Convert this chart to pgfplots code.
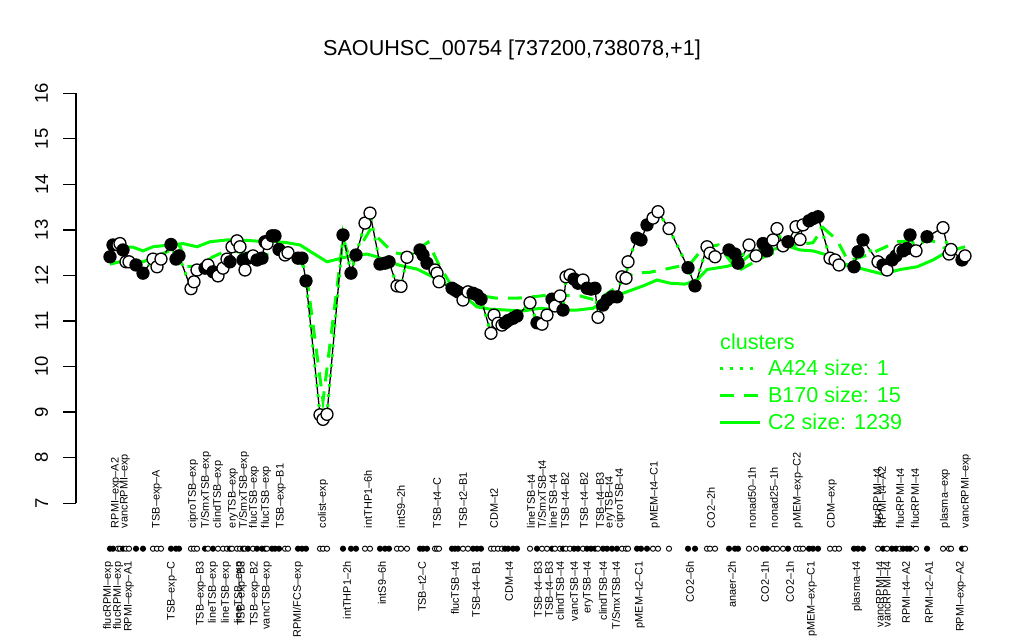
\documentclass[border=0pt]{standalone}
\usepackage{pgfplots}
\pgfplotsset{compat=1.18}
\usepackage{pgfplotstable}
\usepackage{fontspec}
\setmainfont{Liberation Sans}
\definecolor{Rgreen}{RGB}{0,255,0}

% gene profile: position, log expression, condition marker (f = filled, o = open)
\pgfplotstableread{
x y f
110 12.41 f
113 12.67 f
118 12.67 o
120 12.70 o
123 12.56 f
126 12.30 o
129 12.30 o
136 12.23 f
143 12.05 f
153 12.36 o
157 12.19 o
161 12.36 o
171 12.68 f
176 12.36 f
179 12.43 f
191 11.71 o
194 11.86 o
197 12.12 o
205 12.16 f
208 12.23 o
213 12.08 f
218 11.99 o
223 12.16 o
227 12.36 o
230 12.30 f
232 12.63 o
237 12.76 o
240 12.63 o
243 12.34 f
245 12.12 o
248 12.38 f
253 12.43 o
257 12.34 f
262 12.38 f
265 12.74 f
267 12.70 o
272 12.87 f
275 12.87 f
279 12.57 f
285 12.45 o
288 12.50 o
298 12.38 f
302 12.38 f
306 11.88 f
320 8.94 o
323 8.84 o
327 8.95 o
343 12.89 f
351 12.05 f
356 12.45 f
365 13.15 o
370 13.37 o
380 12.25 f
385 12.27 f
389 12.30 f
397 11.77 o
401 11.76 o
407 12.40 o
420 12.56 f
423 12.45 f
427 12.27 f
435 12.12 o
437 12.05 o
439 11.86 o
452 11.72 f
455 11.68 f
458 11.64 f
463 11.46 o
468 11.64 o
473 11.61 f
477 11.57 f
481 11.48 f
491 10.73 o
494 11.13 o
498 10.95 o
502 10.91 o
505 10.96 f
508 11.01 f
513 11.06 f
517 11.11 f
530 11.40 o
537 10.96 f
542 10.93 o
547 11.13 o
552 11.48 f
555 11.33 o
560 11.55 o
563 11.24 f
566 11.97 o
570 12.01 o
574 11.92 f
578 11.83 f
583 11.90 o
587 11.72 f
591 11.70 f
595 11.72 f
598 11.08 o
603 11.35 f
607 11.46 f
612 11.53 f
617 11.53 f
622 11.97 o
626 11.94 o
628 12.30 o
637 12.82 f
641 12.78 f
647 13.11 f
653 13.26 o
658 13.40 o
669 13.03 o
688 12.17 f
695 11.77 f
707 12.63 o
710 12.49 o
715 12.41 o
729 12.56 f
735 12.47 f
738 12.27 f
749 12.67 o
756 12.43 o
763 12.70 f
767 12.54 f
773 12.78 o
777 13.03 o
783 12.65 o
788 12.74 f
796 13.07 o
800 12.79 o
803 13.11 o
809 13.20 f
813 13.25 f
818 13.29 f
830 12.38 o
835 12.34 o
839 12.23 o
854 12.19 f
858 12.52 f
863 12.78 f
878 12.30 o
883 12.23 f
887 12.12 o
892 12.34 f
896 12.43 f
900 12.56 o
903 12.54 f
907 12.59 f
910 12.89 f
916 12.54 o
927 12.85 f
943 13.05 o
949 12.47 o
951 12.57 o
962 12.34 f
965 12.43 o
}\genedata

% cluster C2 mean profile
\pgfplotstableread{
x y
110 12.62
133 12.62
143 12.54
153 12.63
170 12.67
183 12.70
197 12.63
210 12.74
227 12.78
240 12.78
260 12.75
273 12.75
287 12.72
300 12.67
313 12.49
327 12.30
347 12.41
367 12.47
377 12.41
390 12.30
400 12.22
417 12.14
430 12.00
447 11.80
463 11.57
477 11.31
490 11.26
507 11.24
523 11.22
540 11.28
557 11.24
577 11.24
593 11.28
607 11.46
623 11.61
643 11.77
657 11.90
670 11.83
685 11.81
697 11.90
707 12.13
727 12.20
740 12.28
750 12.45
767 12.56
790 12.63
800 12.56
813 12.54
827 12.45
837 12.30
853 12.20
870 12.10
883 12.03
900 12.13
917 12.19
933 12.34
947 12.52
965 12.63
}\clusterC

% cluster B170 mean profile
\pgfplotstableread{
x y
110 12.25
130 12.35
143 12.30
160 12.45
180 12.65
187 12.20
200 12.20
212 12.40
227 12.55
245 12.50
270 12.45
293 12.60
306 12.10
323 9.25
343 12.80
351 12.30
370 13.00
393 12.50
410 12.45
428 12.73
440 12.19
450 11.83
467 11.60
497 11.50
517 11.50
550 11.57
580 11.55
597 11.45
617 11.75
633 12.05
650 12.07
670 12.16
690 12.25
703 12.60
718 12.67
738 12.10
763 12.40
790 12.65
813 12.72
823 13.05
837 12.78
848 12.32
868 12.45
897 12.74
923 12.78
937 12.74
950 12.50
965 12.30
}\clusterB

\newcommand{\labfont}{\fontsize{10.9}{12}\selectfont}
\newcommand{\bigfont}{\fontsize{21.6}{24}\selectfont}
\newcommand{\tickfont}{\fontsize{18.5}{20}\selectfont}
\newcommand{\toplab}[2]{\node[rotate=90, anchor=west, inner sep=0pt, font=\labfont] at (axis cs:#1,6.45) {#2};}
\newcommand{\botlab}[2]{\node[rotate=90, anchor=east, inner sep=0pt, font=\labfont] at (axis cs:#1,5.72) {#2};}

\begin{document}
\begin{tikzpicture}
\useasboundingbox (-76pt,0pt) rectangle (948pt,640pt);
\begin{axis}[
    at={(0pt,0pt)}, anchor=south west,
    scale only axis, width=948pt, height=640pt,
    xmin=76, xmax=1024, ymin=3.995, ymax=18.049,
    clip=false,
    axis line style={draw=none},
    xtick=\empty,
    ytick={7,...,16}, ytick pos=left,
    tick align=outside, major tick length=12.7pt,
    tick style={black, line width=1.2pt},
    yticklabel style={rotate=90, anchor=south, inner sep=0pt, yshift=15pt, font=\tickfont},
    /pgf/number format/assume math mode=true,
    legend style={at={(0.677,0.4387)}, anchor=north west, draw=none, fill=none,
        font=\color{Rgreen}\bigfont, row sep=9.5pt, column sep=6pt, inner sep=0pt,
        nodes={inner sep=1pt, text height=15.5pt, text depth=0pt}},
    legend cell align=left,
    legend image code/.code={\draw[#1] (0pt,0pt) -- (40pt,0pt);},
]
\draw[black, line width=1.2pt] (axis cs:76,7) -- (axis cs:76,16);

\addlegendimage{Rgreen, line width=3pt, dash pattern=on 3pt off 7pt}
\addlegendentry{A424 size: 1}
\addlegendimage{Rgreen, line width=3pt, dash pattern=on 14pt off 10pt}
\addlegendentry{B170 size: 15}
\addlegendimage{Rgreen, line width=3pt}
\addlegendentry{C2 size: 1239}

\addplot[forget plot, Rgreen, line width=3pt] table[x=x, y=y] {\clusterC};
\addplot[forget plot, Rgreen, line width=3pt, dash pattern=on 14pt off 10pt] table[x=x, y=y] {\clusterB};
\addplot[forget plot, black, line width=1.3pt] table[x=x, y=y] {\genedata};
\addplot[forget plot, Rgreen, line width=3pt, dash pattern=on 3pt off 7pt] table[x=x, y=y] {\genedata};
\addplot[forget plot, only marks, scatter, scatter src=explicit symbolic,
    scatter/classes={
        o={mark=*, draw=black, fill=white, line width=1.3pt, mark size=6pt},
        f={mark=*, draw=black, fill=black, line width=1.3pt, mark size=6pt}}]
    table[x=x, y=y, meta=f] {\genedata};
\addplot[forget plot, only marks, scatter, scatter src=explicit symbolic,
    scatter/classes={
        o={mark=*, draw=black, fill=white, line width=0.9pt, mark size=2.6pt},
        f={mark=*, draw=black, fill=black, line width=0.9pt, mark size=2.6pt}}]
    table[x=x, y expr=6, meta=f] {\genedata};

\node[anchor=base, font=\bigfont] at (axis cs:512,16.84) {SAOUHSC\_00754 [737200,738078,+1]};
\node[anchor=west, inner sep=0pt, font=\color{Rgreen}\bigfont] at (axis cs:720,10.54) {clusters};

\toplab{116}{RPMI--exp--A2}
\toplab{125}{vancRPMI--exp}
\toplab{157}{TSB--exp--A}
\toplab{193}{ciproTSB--exp}
\toplab{206}{T/SmxTSB--exp}
\toplab{218}{clindTSB--exp}
\toplab{233}{eryTSB--exp}
\toplab{244}{T/SmxTSB--exp}
\toplab{254}{flucTSB--exp}
\toplab{266}{flucTSB--exp}
\toplab{281}{TSB--exp--B1}
\toplab{323}{colist--exp}
\toplab{368}{intTHP1--6h}
\toplab{401}{intS9--2h}
\toplab{437}{TSB--t4--C}
\toplab{463}{TSB--t2--B1}
\toplab{494}{CDM--t2}
\toplab{531}{lineTSB--t4}
\toplab{542}{T/SmxTSB--t4}
\toplab{553}{lineTSB--t4}
\toplab{565}{TSB--t4--B2}
\toplab{584}{TSB--t4--B2}
\toplab{600}{TSB--t4--B3}
\toplab{610}{eryTSB--t4}
\toplab{620}{ciproTSB--t4}
\toplab{655}{pMEM--t4--C1}
\toplab{711}{CO2--2h}
\toplab{752}{nonad50--1h}
\toplab{774}{nonad25--1h}
\toplab{798}{pMEM--exp--C2}
\toplab{832}{CDM--exp}
\toplab{877}{flucRPMI--t4}
\toplab{882}{RPMI--t4--A2}
\toplab{900}{flucRPMI--t4}
\toplab{915}{flucRPMI--t4}
\toplab{945}{plasma--exp}
\toplab{966}{vancRPMI--exp}

\botlab{108}{flucRPMI--exp}
\botlab{118}{flucRPMI--exp}
\botlab{129}{RPMI--exp--A1}
\botlab{172}{TSB--exp--C}
\botlab{201}{TSB--exp--B3}
\botlab{213}{lineTSB--exp}
\botlab{226}{lineTSB--exp}
\botlab{239}{lineTSB--exp}
\botlab{242}{TSB--exp--B3}
\botlab{255}{TSB--exp--B2}
\botlab{267}{vancTSB--exp}
\botlab{298}{RPMI/FCS--exp}
\botlab{347}{intTHP1--2h}
\botlab{382}{intS9--6h}
\botlab{422}{TSB--t2--C}
\botlab{455}{flucTSB--t4}
\botlab{476}{TSB--t4--B1}
\botlab{509}{CDM--t4}
\botlab{538}{TSB--t4--B3}
\botlab{549}{TSB--t4--B3}
\botlab{560}{clindTSB--t4}
\botlab{574}{vancTSB--t4}
\botlab{588}{eryTSB--t4}
\botlab{603}{clindTSB--t4}
\botlab{616}{T/SmxTSB--t4}
\botlab{640}{pMEM--t2--C1}
\botlab{690}{CO2--6h}
\botlab{732}{anaer--2h}
\botlab{765}{CO2--1h}
\botlab{790}{CO2--1h}
\botlab{812}{pMEM--exp--C1}
\botlab{857}{plasma--t4}
\botlab{880}{vancRPMI--t4}
\botlab{887}{vancRPMI--t4}
\botlab{906}{RPMI--t4--A2}
\botlab{929}{RPMI--t2--A1}
\botlab{961}{RPMI--exp--A2}
\end{axis}
\end{tikzpicture}
\end{document}
